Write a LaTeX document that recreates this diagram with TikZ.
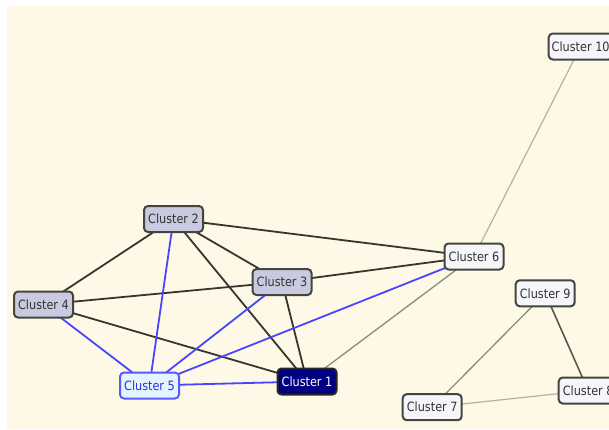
\documentclass[tikz,border=0pt]{standalone}
\usepackage{fontspec}
\newfontfamily\nodefont[FakeStretch=0.88]{DejaVu Sans}
\definecolor{paper}{HTML}{FEF9E7}
\definecolor{framegray}{HTML}{45453F}
\definecolor{plainfill}{HTML}{F5F5FA}
\definecolor{groupfill}{HTML}{C9C9DF}
\definecolor{selfill}{HTML}{E4F4FF}
\definecolor{selblue}{HTML}{5858FF}
\definecolor{seltext}{HTML}{2E2EE0}
\definecolor{navyfill}{HTML}{000080}
\definecolor{edgedark}{HTML}{36362E}
\definecolor{edgeblue}{HTML}{4646FF}
\definecolor{edgemid}{HTML}{8C8C74}
\definecolor{edgelight}{HTML}{B4B496}
\definecolor{edgegray}{HTML}{58584C}
\pgfdeclarelayer{paperlayer}
\pgfdeclarelayer{linklayer}
\pgfsetlayers{paperlayer,linklayer,main}
\tikzset{
  cluster/.style={draw=framegray, line width=2pt, rounded corners=4pt,
    fill=plainfill, minimum width=59pt, minimum height=26pt, inner sep=3pt,
    font=\nodefont\fontsize{12.8}{14}\selectfont, text=black!80},
  grouped/.style={cluster, fill=groupfill},
  picked/.style={cluster, draw=selblue, fill=selfill, text=seltext},
  focus/.style={cluster, draw=black!85, fill=navyfill, text=white},
  dark/.style={draw=edgedark, line width=1.8pt},
  blue/.style={draw=edgeblue, line width=1.8pt},
  mid/.style={draw=edgemid, line width=1.3pt},
  light/.style={draw=edgelight, line width=1.2pt},
  gray/.style={draw=edgegray, line width=1.6pt},
}
\begin{document}
\begin{tikzpicture}[x=1pt, y=-1pt]
\useasboundingbox (0,0) rectangle (609,429);
\begin{pgfonlayer}{paperlayer}
  \fill[white] (0,0) rectangle (609,429);
  \fill[paper] (7,6) rectangle (609,429);
\end{pgfonlayer}

\node[focus]   (c1)  at (307,381.5) {Cluster 1};
\node[grouped] (c2)  at (173.5,219) {Cluster 2};
\node[grouped] (c3)  at (282,282) {Cluster 3};
\node[grouped] (c4)  at (43.5,304.5) {Cluster 4};
\node[picked]  (c5)  at (149.5,385.5) {Cluster 5};
\node[cluster] (c6)  at (474,256.5) {Cluster 6};
\node[cluster] (c7)  at (432.2,407.2) {Cluster 7};
\node[cluster, anchor=west] (c8)  at (557.7,390.5) {Cluster 8};
\node[cluster] (c9)  at (545.2,293.3) {Cluster 9};
\node[cluster, anchor=west] (c10) at (547.7,46.5) {Cluster 10};

% links between the clusters, kept below the boxes
\begin{pgfonlayer}{linklayer}
  \draw[light] (c6.center) -- (c10.center);
  \draw[mid]   (c1.center) -- (c6.center);
  \draw[mid]   (c9.center) -- (c7.center);
  \draw[gray]  (c9.center) -- (c8.center);
  \draw[light] (c7.center) -- (c8.center);

  \draw[dark] (c2.center) -- (c4.center);
  \draw[dark] (c2.center) -- (c3.center);
  \draw[dark] (c2.center) -- (c6.center);
  \draw[dark] (c2.center) -- (c1.center);
  \draw[dark] (c3.center) -- (c4.center);
  \draw[dark] (c3.center) -- (c6.center);
  \draw[dark] (c3.center) -- (c1.center);
  \draw[dark] (c4.center) -- (c1.center);

  \draw[blue] (c5.center) -- (c2.center);
  \draw[blue] (c5.center) -- (c4.center);
  \draw[blue] (c5.center) -- (c3.center);
  \draw[blue] (c5.center) -- (c6.center);
  \draw[blue] (c5.center) -- (c1.center);
\end{pgfonlayer}
\end{tikzpicture}
\end{document}
